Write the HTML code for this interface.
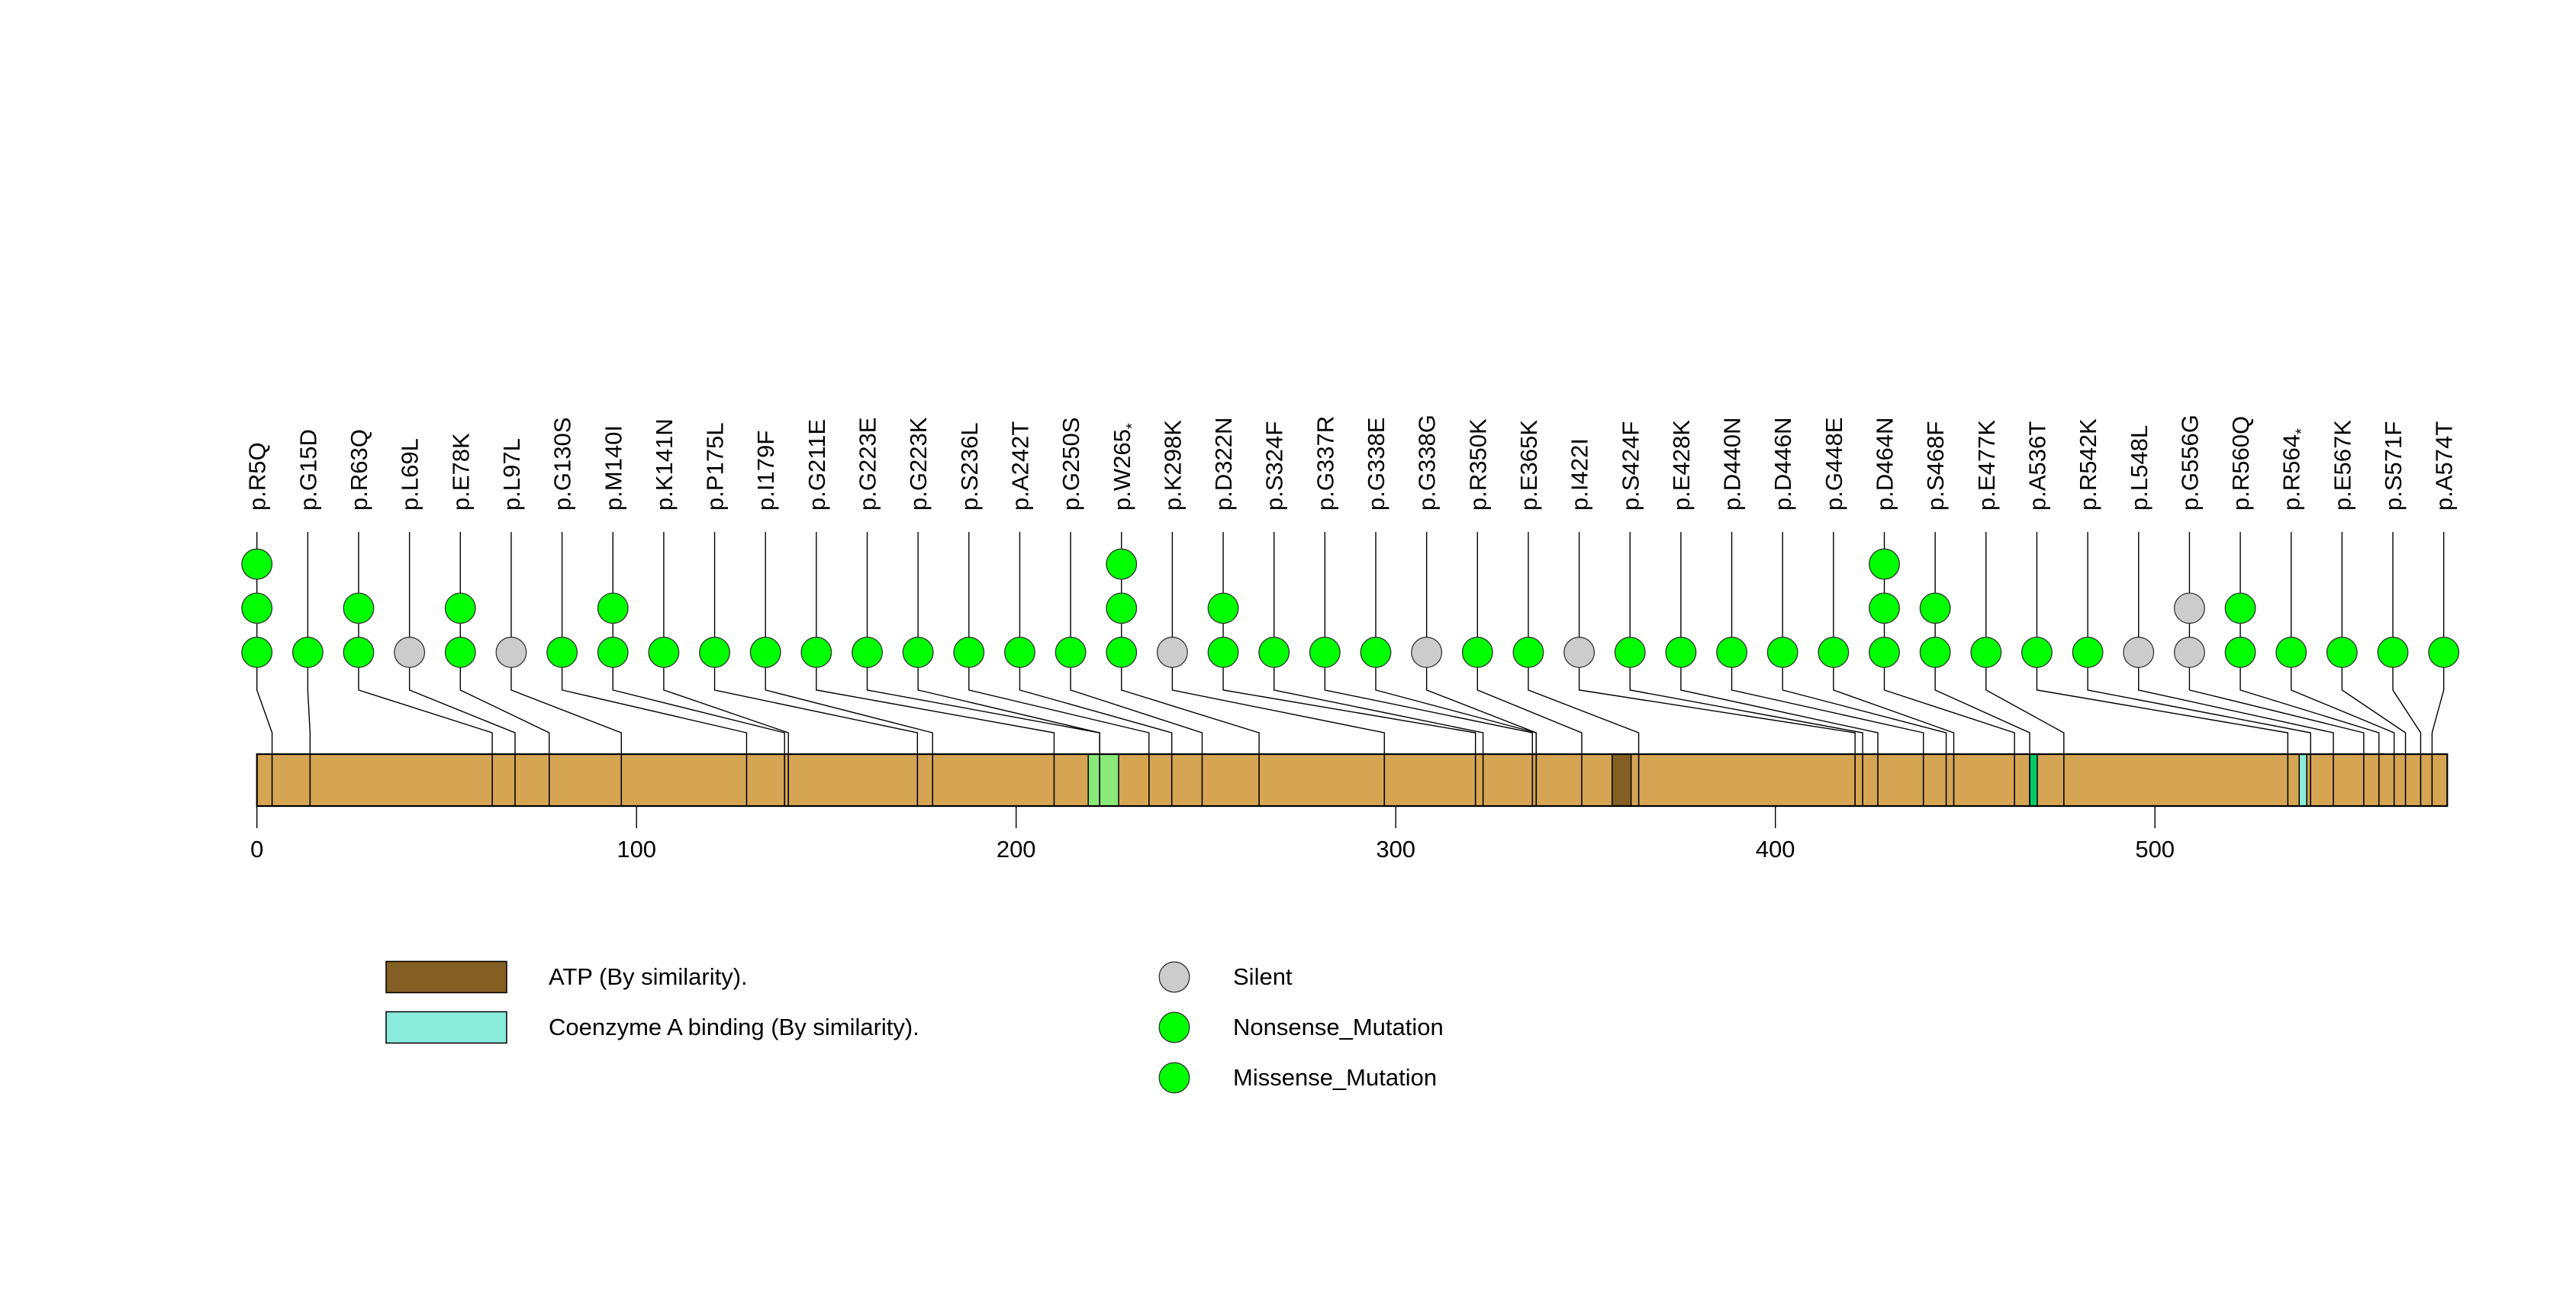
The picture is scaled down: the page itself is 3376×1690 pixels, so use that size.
<!DOCTYPE html>
<html><head><meta charset="utf-8"><style>html,body{margin:0;padding:0;background:#fff}svg{display:block}text{font-family:"Liberation Sans",sans-serif;fill:#000}</style></head>
<body>
<svg id="chart" width="3376" height="1690" viewBox="0 0 3376 1690" xmlns="http://www.w3.org/2000/svg"></svg>
<script>
const mutLabels = ["p.R5Q","p.G15D","p.R63Q","p.L69L","p.E78K","p.L97L","p.G130S","p.M140I","p.K141N","p.P175L","p.I179F","p.G211E","p.G223E","p.G223K","p.S236L","p.A242T","p.G250S","p.W265*","p.K298K","p.D322N","p.S324F","p.G337R","p.G338E","p.G338G","p.R350K","p.E365K","p.I422I","p.S424F","p.E428K","p.D440N","p.D446N","p.G448E","p.D464N","p.S468F","p.E477K","p.A536T","p.R542K","p.L548L","p.G556G","p.R560Q","p.R564*","p.E567K","p.S571F","p.A574T"];
const mutPositions = [5,15,63,69,78,97,130,140,141,175,179,211,223,223,236,242,250,265,298,322,324,337,338,338,350,365,422,424,428,440,446,448,464,468,477,536,542,548,556,560,564,567,571,574];
const mutCounts = [3,1,2,1,2,1,1,2,1,1,1,1,1,1,1,1,1,3,1,2,1,1,1,1,1,1,1,1,1,1,1,1,3,2,1,1,1,1,2,2,1,1,1,1];
const mutTypes = ["M","M","M","S","M","S","M","M","M","M","M","M","M","M","M","M","M","M","S","M","M","M","M","S","M","M","S","M","M","M","M","M","M","M","M","M","M","S","S","M","M","M","M","M"];
const proteinLength = 578;
const domainStarts = [220,358,468,539];
const domainEnds = [228,363,470,541];
const domainColors = ["#88e878","#835f24","#00cc66","#8aebdb"];
const domainNames = ["domain-region-1","atp-domain","overlap-domain","coenzyme-a-domain"];
const tickValues = [0,100,200,300,400,500];
const tickLabels = ["0","100","200","300","400","500"];

const NS="http://www.w3.org/2000/svg";
const svg=document.getElementById('chart');
const X0=336.7,K=4.975;
function xAxis(v){return X0+v*K;}
function xProt(n){return X0+(n-1)*K;}
const LAB0=336.7,LABSTEP=66.65;
function xLab(i){return LAB0+i*LABSTEP;}
const ROW0=854.6,ROWSTEP=57.8;
function yRow(k){return ROW0-k*ROWSTEP;}
const BAR_T=988,BAR_B=1056;
function mk(tag,attrs,parent){const e=document.createElementNS(NS,tag);for(const k in attrs)e.setAttribute(k,attrs[k]);(parent||svg).appendChild(e);return e;}

for(let i=0;i<mutLabels.length;i++){
  const lx=xLab(i),px=xProt(mutPositions[i]);
  const p=mk('polyline',{points:`${lx},697 ${lx},904 ${px},960 ${px},${BAR_B}`,fill:'none',stroke:'#000','stroke-width':1.4});
  
  
}
const bar=mk('rect',{x:xProt(1),y:BAR_T,width:xProt(proteinLength)-xProt(1),height:BAR_B-BAR_T,fill:'#d5a554',stroke:'none'});


for(let d=0;d<domainStarts.length;d++){
  const r=mk('rect',{x:xProt(domainStarts[d]),y:BAR_T,width:xProt(domainEnds[d])-xProt(domainStarts[d]),height:BAR_B-BAR_T,fill:domainColors[d],stroke:'#000','stroke-width':1.5});
  
  
}
for(let i=0;i<mutLabels.length;i++){
  const px=xProt(mutPositions[i]);
  const l=mk('line',{x1:px,y1:BAR_T,x2:px,y2:BAR_B,stroke:'#000','stroke-width':1.6});
  
  
}
const border=mk('rect',{x:xProt(1),y:BAR_T,width:xProt(proteinLength)-xProt(1),height:BAR_B-BAR_T,fill:'none',stroke:'#000','stroke-width':2.2});



for(let i=0;i<mutLabels.length;i++){
  const lx=xLab(i);
  for(let k=0;k<mutCounts[i];k++){
    const c=mk('circle',{cx:lx,cy:yRow(k),r:19.8,fill:mutTypes[i]==='S'?'#cccccc':'#00ff00',stroke:'#333','stroke-width':1.3});
    
    
  }
  const t=mk('text',{transform:`translate(${lx+11},669) rotate(-90)`,'font-size':31});
  
  
  const lab=mutLabels[i];
  if(lab.endsWith('*')){
    t.textContent=lab.slice(0,-1);
    const s=mk('tspan',{'font-size':20,dy:9},t);s.textContent='*';
  } else t.textContent=lab;
}
for(let j=0;j<tickValues.length;j++){
  const x=xAxis(tickValues[j]);
  const l=mk('line',{x1:x,y1:BAR_B,x2:x,y2:1085,stroke:'#000','stroke-width':1.4});
  
  
  const t=mk('text',{x:x,y:1123,'font-size':31,'text-anchor':'middle'});
  
  
  t.textContent=tickLabels[j];
}
</script>
<svg style="position:absolute;left:0;top:0" width="3376" height="1690">
<rect x="506" y="1259.5" width="158" height="41" fill="#835f24" stroke="#000" stroke-width="1.5"/>
<text x="719" y="1290" font-size="31">ATP (By similarity).</text>
<rect x="506" y="1325.5" width="158" height="41" fill="#8aebdb" stroke="#000" stroke-width="1.5"/>
<text x="719" y="1356" font-size="31">Coenzyme A binding (By similarity).</text>
<circle cx="1539" cy="1280" r="19.8" fill="#cccccc" stroke="#333" stroke-width="1.3"/>
<text x="1616" y="1290" font-size="31">Silent</text>
<circle cx="1539" cy="1346" r="19.8" fill="#00ff00" stroke="#333" stroke-width="1.3"/>
<text x="1616" y="1356" font-size="31">Nonsense_Mutation</text>
<circle cx="1539" cy="1412" r="19.8" fill="#00ff00" stroke="#333" stroke-width="1.3"/>
<text x="1616" y="1422" font-size="31">Missense_Mutation</text>
</svg>
</body></html>
